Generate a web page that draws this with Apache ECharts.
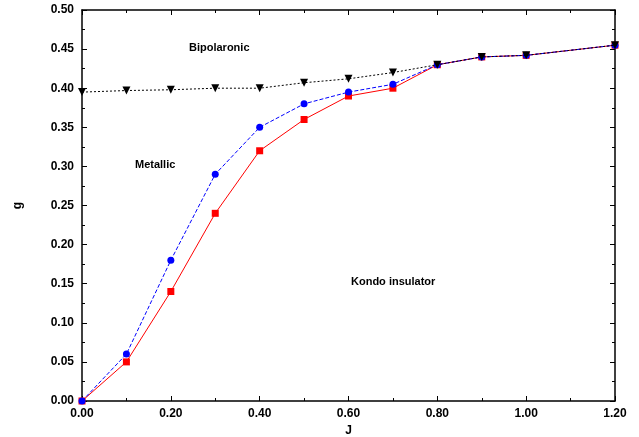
<!DOCTYPE html>
<html>
<head>
<meta charset="utf-8">
<script src="https://cdn.jsdelivr.net/npm/echarts@6/dist/echarts.min.js"></script>
<style>
  html, body { margin: 0; padding: 0; background: #fff; }
  #chart { width: 639px; height: 437px; }
</style>
</head>
<body>
<div id="chart"></div>
<script>
var J_VALUES = [0, 0.1, 0.2, 0.3, 0.4, 0.5, 0.6, 0.7, 0.8, 0.9, 1.0, 1.2];
var BIPOLARONIC = [0.395, 0.397, 0.398, 0.400, 0.400, 0.407, 0.412, 0.420, 0.430, 0.440, 0.442, 0.455];
var METALLIC = [0.000, 0.060, 0.180, 0.290, 0.350, 0.380, 0.395, 0.405, 0.430, 0.440, 0.442, 0.455];
var KONDO = [0.000, 0.050, 0.140, 0.240, 0.320, 0.360, 0.390, 0.400, 0.430, 0.440, 0.442, 0.455];
var REGION_LABELS = ['Bipolaronic', 'Metallic', 'Kondo insulator'];

var FONT = 'Liberation Sans, Arial, sans-serif';

function pairs(ys) {
  return J_VALUES.map(function (x, i) { return [x, ys[i]]; });
}

var chart = echarts.init(document.getElementById('chart'), null, { renderer: 'canvas' });

var axisLine = { show: true, onZero: false, lineStyle: { color: '#000', width: 1.5 } };
var tick = { show: true, inside: true, length: 5, lineStyle: { color: '#000', width: 1 } };
var minor = { show: true, splitNumber: 2, length: 3, lineStyle: { color: '#000', width: 1 } };
var label = { color: '#000', fontFamily: FONT, fontWeight: 'bold', fontSize: 12 };

function fmt(v) { return v.toFixed(2); }

function xAxis(pos, showLabel) {
  return {
    type: 'value', position: pos, min: 0, max: 1.2, interval: 0.2,
    name: showLabel ? 'J' : '', nameLocation: 'middle', nameGap: 21,
    nameTextStyle: label,
    axisLine: axisLine, axisTick: tick, minorTick: minor,
    splitLine: { show: false },
    axisLabel: Object.assign({ show: showLabel, margin: 7, formatter: fmt }, label)
  };
}
function yAxis(pos, showLabel) {
  return {
    type: 'value', position: pos, min: 0, max: 0.5, interval: 0.05,
    name: showLabel ? 'g' : '', nameLocation: 'middle', nameGap: 58,
    nameTextStyle: label,
    axisLine: axisLine, axisTick: tick, minorTick: minor,
    splitLine: { show: false },
    axisLabel: Object.assign({ show: showLabel, margin: 8, formatter: fmt }, label)
  };
}

chart.setOption({
  backgroundColor: '#fff',
  animation: false,
  grid: { left: 82, right: 24, top: 10, bottom: 36, containLabel: false, outerBoundsMode: 'none' },
  xAxis: [xAxis('bottom', true), xAxis('top', false)],
  yAxis: [yAxis('left', true), yAxis('right', false)],
  series: [
    {
      type: 'line', data: pairs(KONDO), symbol: 'rect', symbolSize: 7,
      itemStyle: { color: '#ff0000' }, lineStyle: { color: '#ff0000', width: 1 }, z: 3
    },
    {
      type: 'line', data: pairs(METALLIC), symbol: 'circle', symbolSize: 7,
      itemStyle: { color: '#0000ff' }, lineStyle: { color: '#0000ff', width: 1, type: [4, 2] }, z: 4
    },
    {
      type: 'line', data: pairs(BIPOLARONIC), symbol: 'triangle', symbolRotate: 180, symbolSize: 8,
      itemStyle: { color: '#000' }, lineStyle: { color: '#000', width: 1, type: [2, 2] }, z: 5
    }
  ],
  graphic: [
    { type: 'text', left: 189, top: 42, style: { text: REGION_LABELS[0], font: 'bold 11px ' + FONT, fill: '#000' } },
    { type: 'text', left: 135, top: 159, style: { text: REGION_LABELS[1], font: 'bold 11px ' + FONT, fill: '#000' } },
    { type: 'text', left: 351, top: 276, style: { text: REGION_LABELS[2], font: 'bold 11px ' + FONT, fill: '#000' } }
  ]
});
</script>
</body>
</html>
